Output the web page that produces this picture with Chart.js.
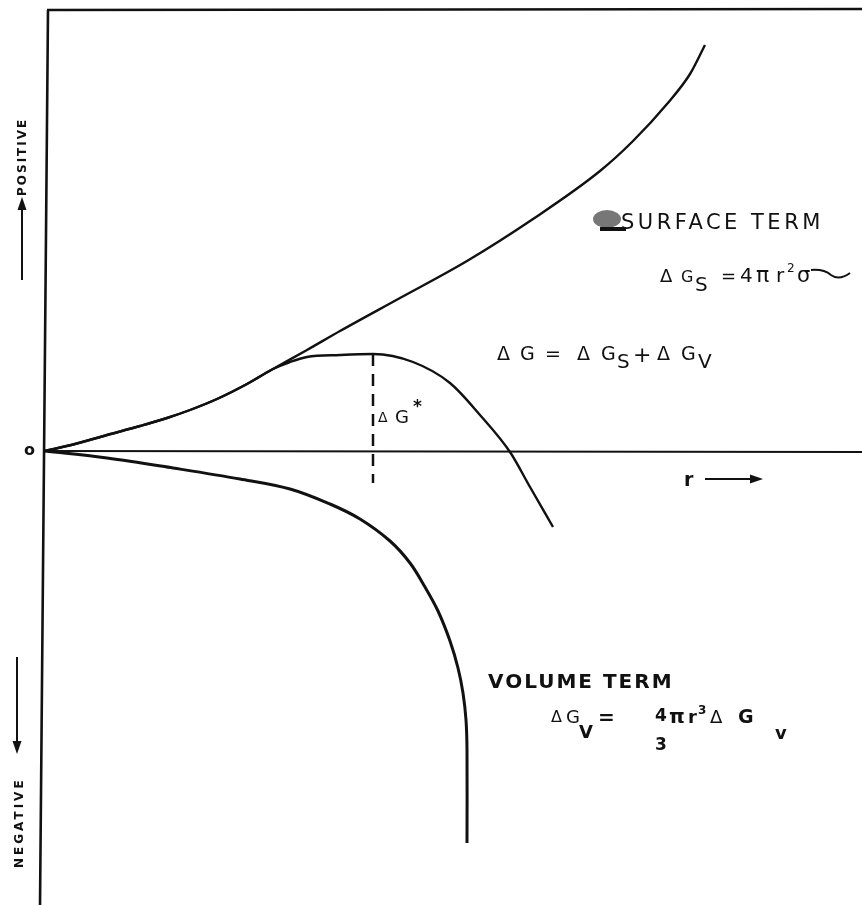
<!DOCTYPE html>
<html>
<head>
<meta charset="utf-8">
<script src="https://cdn.jsdelivr.net/npm/chart.js@4.4.1/dist/chart.umd.min.js"></script>
<style>
  body { margin: 0; background: #fff; }
  canvas { display: block; }
</style>
</head>
<body>
<canvas id="grafico" width="862" height="905"></canvas>
<script>
// radius r (arbitrary units) and free energy values
const surfaceR = [0, 0.3, 0.62, 0.95, 1.22, 1.45, 1.72, 2.02, 2.28, 2.62, 2.95, 3.55, 4.22, 4.88, 5.55, 5.88, 6.22, 6.45, 6.60];
const surfaceG = [0, 0.07, 0.16, 0.25, 0.33, 0.41, 0.52, 0.67, 0.82, 1.01, 1.20, 1.53, 1.90, 2.32, 2.80, 3.10, 3.47, 3.77, 4.06];

const totalR = [0, 0.3, 0.62, 0.95, 1.22, 1.45, 1.72, 2.02, 2.28, 2.45, 2.62, 2.95, 3.28, 3.68, 4.05, 4.35, 4.65, 4.85, 5.08];
const totalG = [0, 0.07, 0.16, 0.25, 0.33, 0.41, 0.52, 0.67, 0.82, 0.89, 0.94, 0.96, 0.97, 0.89, 0.68, 0.36, -0.01, -0.36, -0.76];

const volumeR = [0, 0.62, 1.28, 1.95, 2.45, 2.85, 3.15, 3.45, 3.65, 3.80, 3.93, 4.05, 4.13, 4.18, 4.21, 4.22, 4.22];
const volumeG = [0, -0.07, -0.17, -0.28, -0.38, -0.53, -0.68, -0.90, -1.12, -1.36, -1.60, -1.90, -2.17, -2.42, -2.69, -2.99, -3.92];

// barrier height marker (r*, from peak down below the axis)
const starR = [3.28, 3.28];
const starG = [0.97, -0.32];

const tinta = '#111';

function pontos(xs, ys) {
    return xs.map((x, i) => ({ x: x, y: ys[i] }));
}

// each piece: [text, x, baseline, size, bold]
function escrever(ctx, pecas) {
    pecas.forEach(p => {
        ctx.font = (p[4] ? 'bold ' : '') + p[3] + 'px "DejaVu Sans"';
        ctx.fillText(p[0], p[1], p[2]);
    });
}

function seta(ctx, x1, y1, x2, y2) {
    const a = Math.atan2(y2 - y1, x2 - x1);
    ctx.beginPath();
    ctx.moveTo(x1, y1);
    ctx.lineTo(x2 - 8 * Math.cos(a), y2 - 8 * Math.sin(a));
    ctx.stroke();
    ctx.beginPath();
    ctx.moveTo(x2, y2);
    ctx.lineTo(x2 - 13 * Math.cos(a) + 4.5 * Math.sin(a), y2 - 13 * Math.sin(a) - 4.5 * Math.cos(a));
    ctx.lineTo(x2 - 13 * Math.cos(a) - 4.5 * Math.sin(a), y2 - 13 * Math.sin(a) + 4.5 * Math.cos(a));
    ctx.closePath();
    ctx.fill();
}

const eixos = {
    id: 'eixos',
    beforeDatasetsDraw(chart) {
        const ctx = chart.ctx;
        const xs = chart.scales.x, ys = chart.scales.y;
        const x0 = xs.getPixelForValue(0);
        const y0 = ys.getPixelForValue(0);
        const topo = 10;
        ctx.save();
        ctx.strokeStyle = tinta;
        ctx.lineWidth = 2.6;
        ctx.beginPath();
        ctx.moveTo(x0 + 3, topo);
        ctx.lineTo(x0 - 5, chart.height);
        ctx.moveTo(x0 + 2, topo);
        ctx.lineTo(chart.width, topo - 1);
        ctx.stroke();
        ctx.lineWidth = 2.2;
        ctx.beginPath();
        ctx.moveTo(x0, y0);
        ctx.lineTo(chart.width, y0 + 1);
        ctx.stroke();
        ctx.restore();
    },
    afterDraw(chart) {
        const ctx = chart.ctx;
        ctx.save();
        ctx.fillStyle = tinta;
        ctx.strokeStyle = tinta;
        ctx.textBaseline = 'alphabetic';
        ctx.textAlign = 'left';
        ctx.lineWidth = 2;

        // zero label
        ctx.font = 'bold 16px "DejaVu Sans"';
        ctx.fillText('o', 24, 455);

        // POSITIVE arrow + label
        seta(ctx, 22, 280, 22, 197);
        ctx.save();
        ctx.translate(26, 196);
        ctx.rotate(-Math.PI / 2);
        ctx.font = 'bold 12px "DejaVu Sans"';
        ctx.letterSpacing = '2px';
        ctx.fillText('POSITIVE', 0, 0);
        ctx.restore();

        // NEGATIVE arrow + label
        seta(ctx, 17, 657, 17, 754);
        ctx.save();
        ctx.translate(23, 868);
        ctx.rotate(-Math.PI / 2);
        ctx.font = 'bold 12px "DejaVu Sans"';
        ctx.letterSpacing = '3px';
        ctx.fillText('NEGATIVE', 0, 0);
        ctx.restore();

        // surface term (with the smudge of the scan before it)
        ctx.fillStyle = '#777';
        ctx.beginPath();
        ctx.ellipse(607, 219, 14, 9, 0, 0, Math.PI * 2);
        ctx.fill();
        ctx.fillStyle = tinta;
        ctx.fillRect(600, 227, 26, 4);
        ctx.save();
        ctx.font = '21px "DejaVu Sans"';
        ctx.letterSpacing = '3.5px';
        ctx.fillText('SURFACE TERM', 621, 229);
        ctx.restore();
        escrever(ctx, [
            ['Δ', 660, 282, 18], ['G', 681, 282, 16], ['S', 695, 291, 20],
            ['=', 721, 282, 18], ['4', 740, 282, 20], ['π', 756, 282, 22],
            ['r', 776, 282, 20], ['2', 787, 272, 12], ['σ', 797, 282, 21]
        ]);
        ctx.lineWidth = 2;
        ctx.beginPath();
        ctx.moveTo(811, 270);
        ctx.quadraticCurveTo(824, 269, 831, 275);
        ctx.quadraticCurveTo(839, 281, 850, 273);
        ctx.stroke();

        // total
        escrever(ctx, [
            ['Δ', 497, 360, 19], ['G', 520, 360, 19], ['=', 545, 360, 19],
            ['Δ', 577, 360, 19], ['G', 601, 360, 19], ['S', 617, 368, 20],
            ['+', 633, 362, 22], ['Δ', 657, 360, 19], ['G', 681, 360, 19], ['V', 698, 368, 20]
        ]);

        // barrier label
        escrever(ctx, [['Δ', 378, 422, 14], ['G', 395, 423, 18], ['*', 413, 412, 17, true]]);

        // r axis label
        escrever(ctx, [['r', 684, 486, 19, true]]);
        seta(ctx, 705, 479, 763, 479);

        // volume term
        ctx.save();
        ctx.font = 'bold 20px "DejaVu Sans"';
        ctx.letterSpacing = '2px';
        ctx.fillText('VOLUME TERM', 488, 688);
        ctx.restore();
        escrever(ctx, [
            ['Δ', 551, 722, 16], ['G', 566, 723, 18], ['V', 579, 738, 18, true],
            ['=', 598, 724, 20, true],
            ['4', 655, 721, 17, true], ['3', 655, 750, 17, true],
            ['π', 669, 723, 20, true], ['r', 688, 723, 18, true], ['3', 698, 714, 12, true],
            ['Δ', 710, 723, 18], ['G', 738, 723, 19, true], ['v', 775, 739, 18, true]
        ]);

        ctx.restore();
    }
};

const ctx = document.getElementById('grafico').getContext('2d');
new Chart(ctx, {
    type: 'scatter',
    data: {
        datasets: [
            { label: 'surface', data: pontos(surfaceR, surfaceG), cubicInterpolationMode: 'monotone' },
            { label: 'total', data: pontos(totalR, totalG), cubicInterpolationMode: 'monotone' },
            { label: 'volume', data: pontos(volumeR, volumeG), borderWidth: 3, tension: 0.35 },
            { label: 'star', data: pontos(starR, starG), borderDash: [12, 8], borderWidth: 2.5 }
        ].map(d => Object.assign({
            showLine: true,
            borderColor: tinta,
            borderWidth: 2.4,
            borderJoinStyle: 'round',
            pointRadius: 0,
            tension: 0,
            fill: false
        }, d))
    },
    options: {
        responsive: false,
        animation: false,
        layout: { padding: 0 },
        plugins: { legend: { display: false }, tooltip: { enabled: false } },
        scales: {
            x: { type: 'linear', min: -0.45, max: 8.17, display: false },
            y: { type: 'linear', min: -4.54, max: 4.51, display: false }
        }
    },
    plugins: [eixos]
});
</script>
</body>
</html>
